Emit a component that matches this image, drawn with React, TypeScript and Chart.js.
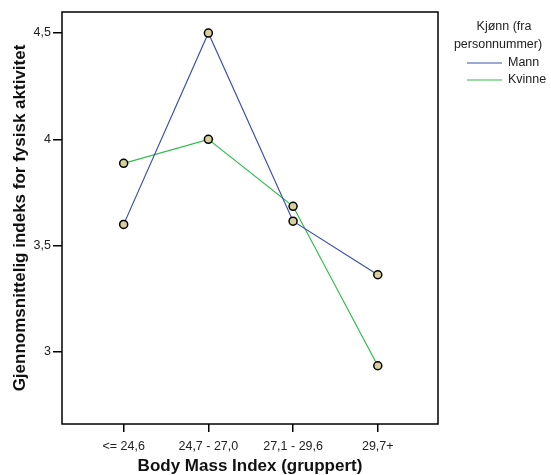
import React, { useEffect, useRef } from "react";
import { Chart, registerables } from "chart.js";

Chart.register(...registerables);

const categories = ["<= 24,6", "24,7 - 27,0", "27,1 - 29,6", "29,7+"];
const mannValues = [3.6, 4.5, 3.615, 3.363];
const kvinneValues = [3.887, 4.0, 3.685, 2.935];
const yTicks = [3, 3.5, 4, 4.5];
const seriesNames = ["Mann", "Kvinne"];
const legendTitle = ["Kjønn (fra", "personnummer)"];
const xTitle = "Body Mass Index (gruppert)";
const yTitle = "Gjennomsnittelig indeks for fysisk aktivitet";

const BLUE = "#3c50a8";
const GREEN = "#2fbe48";
const MARK = "#d8d09c";
const FONT = "'Liberation Sans', Arial, sans-serif";

export default function App() {
  const ref = useRef<HTMLCanvasElement | null>(null);
  useEffect(() => {
    document.body.style.margin = "0";
    const canvas = ref.current!;
    const frame = {
      id: "frame",
      afterDraw(chart: any) {
        const { ctx, chartArea: a } = chart;
        ctx.save();
        ctx.strokeStyle = "#000";
        ctx.lineWidth = 1.5;
        ctx.strokeRect(a.left, a.top, a.right - a.left, a.bottom - a.top);
        ctx.restore();
      },
    };
    const legend = {
      id: "customLegend",
      afterDraw(chart: any) {
        const { ctx } = chart;
        ctx.save();
        ctx.fillStyle = "#222";
        ctx.font = "12.5px " + FONT;
        ctx.textAlign = "center";
        ctx.textBaseline = "middle";
        ctx.fillText(legendTitle[0], 504, 27);
        ctx.fillText(legendTitle[1], 498, 45);
        const colors = [BLUE, GREEN];
        seriesNames.forEach((n, i) => {
          const y = 63 + i * 17;
          ctx.strokeStyle = colors[i];
          ctx.lineWidth = 1.2;
          ctx.beginPath();
          ctx.moveTo(467, y);
          ctx.lineTo(502, y);
          ctx.stroke();
          ctx.textAlign = "left";
          ctx.fillText(n, 508, y);
        });
        ctx.restore();
      },
    };
    const chart = new Chart(canvas, {
      type: "line",
      data: {
        datasets: [
          {
            label: seriesNames[0],
            data: mannValues.map((v, i) => ({ x: i, y: v })),
            borderColor: BLUE,
            borderWidth: 1.2,
            pointBackgroundColor: MARK,
            pointBorderColor: "#000",
            pointBorderWidth: 1.5,
            pointRadius: 4,
            tension: 0,
          },
          {
            label: seriesNames[1],
            data: kvinneValues.map((v, i) => ({ x: i, y: v })),
            borderColor: GREEN,
            borderWidth: 1.2,
            pointBackgroundColor: MARK,
            pointBorderColor: "#000",
            pointBorderWidth: 1.5,
            pointRadius: 4,
            tension: 0,
          },
        ],
      },
      options: {
        animation: false,
        responsive: false,
        layout: { padding: { left: 0, top: 12, right: 113, bottom: 0 } },
        plugins: { legend: { display: false }, tooltip: { enabled: false } },
        scales: {
          x: {
            type: "linear",
            min: -0.728,
            max: 3.711,
            afterBuildTicks: (s: any) => {
              s.ticks = categories.map((_, i) => ({ value: i }));
            },
            afterFit: (s: any) => {
              s.height = 51;
            },
            ticks: {
              callback: (v: any) => categories[v] ?? "",
              color: "#222",
              font: { size: 12.5, family: FONT },
              padding: 7,
              maxRotation: 0,
              autoSkip: false,
            },
            grid: { drawOnChartArea: false, tickLength: 8, color: "#000", lineWidth: 1.5 },
            border: { display: false },
            title: {
              display: true,
              text: xTitle,
              color: "#111",
              font: { size: 17, weight: "bold", family: FONT },
              padding: { top: 0, bottom: -2 },
            },
          },
          y: {
            type: "linear",
            min: 2.661,
            max: 4.599,
            afterBuildTicks: (s: any) => {
              s.ticks = yTicks.map((v) => ({ value: v }));
            },
            afterFit: (s: any) => {
              s.width = 62;
            },
            ticks: {
              callback: (v: any) => String(v).replace(".", ","),
              color: "#222",
              font: { size: 12.5, family: FONT },
              padding: 2,
            },
            grid: { drawOnChartArea: false, tickLength: 9, color: "#000", lineWidth: 1.5 },
            border: { display: false },
            title: {
              display: true,
              text: yTitle,
              color: "#111",
              font: { size: 17, weight: "bold", family: FONT },
              padding: { top: 10, bottom: 0 },
            },
          },
        },
      },
      plugins: [frame, legend],
    } as any);
    return () => chart.destroy();
  }, []);
  return <canvas ref={ref} width={551} height={475} style={{ display: "block" }} />;
}
